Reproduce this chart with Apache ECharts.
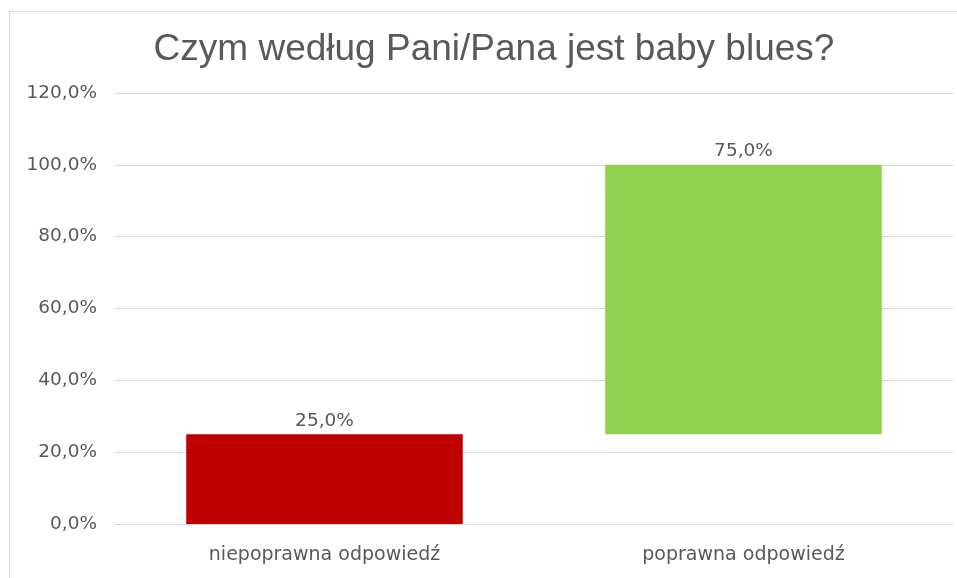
<!DOCTYPE html>
<html>
<head>
<meta charset="utf-8">
<script src="https://cdn.jsdelivr.net/npm/echarts@6/dist/echarts.min.js"></script>
<style>
  html, body { margin: 0; padding: 0; background: #fff; }
  #frame { position: absolute; left: 9px; top: 11px; width: 960px; height: 580px; border: 1px solid #d9d9d9; box-sizing: border-box; }
  #chart { position: absolute; left: 0; top: 0; width: 957px; height: 578px; }
</style>
</head>
<body>
<div id="frame"></div>
<div id="chart"></div>
<script>
// dane z wykresu (waterfall: podstawa + wartość)
const categories = ['niepoprawna odpowiedź', 'poprawna odpowiedź']
const baseValues = [0, 25]
const barValues = [25, 75]
const barColors = ['#C00000', '#92D050']
const yTicks = [0, 20, 40, 60, 80, 100, 120]

const fmt = v => v.toFixed(1).replace('.', ',') + '%'

let chartDom = document.getElementById('chart')
let myChart = echarts.init(chartDom)
let option = {
  animation: false,
  title: {
    text: 'Czym według Pani/Pana jest baby blues?',
    left: 489,
    textAlign: 'center',
    top: 26,
    textStyle: { fontFamily: 'Liberation Sans', fontSize: 37, fontWeight: 'normal', color: '#595959' }
  },
  grid: { left: 115, right: 4, top: 93, bottom: 54 },
  xAxis: {
    type: 'category',
    data: categories,
    axisTick: { show: false },
    axisLine: { lineStyle: { color: '#d9d9d9' } },
    axisLabel: { color: '#595959', fontFamily: 'DejaVu Sans', fontSize: 19, margin: 22 }
  },
  yAxis: {
    type: 'value',
    min: yTicks[0],
    max: yTicks[yTicks.length - 1],
    interval: 20,
    axisLine: { show: false },
    axisTick: { show: false },
    splitLine: { lineStyle: { color: '#d9d9d9' } },
    axisLabel: { color: '#595959', fontFamily: 'DejaVu Sans', fontSize: 18.5, margin: 18, formatter: fmt }
  },
  series: [
    {
      name: 'base',
      type: 'bar',
      stack: 'wf',
      barWidth: '66%',
      itemStyle: { color: 'transparent' },
      data: baseValues
    },
    {
      name: 'value',
      type: 'bar',
      stack: 'wf',
      barWidth: '66%',
      data: barValues.map((v, i) => ({ value: v, itemStyle: { color: barColors[i] } })),
      label: {
        show: true,
        position: 'top',
        distance: 4,
        color: '#595959',
        fontFamily: 'DejaVu Sans',
        fontSize: 18.5,
        formatter: p => fmt(p.value)
      }
    }
  ]
}
option && myChart.setOption(option)
</script>
</body>
</html>
